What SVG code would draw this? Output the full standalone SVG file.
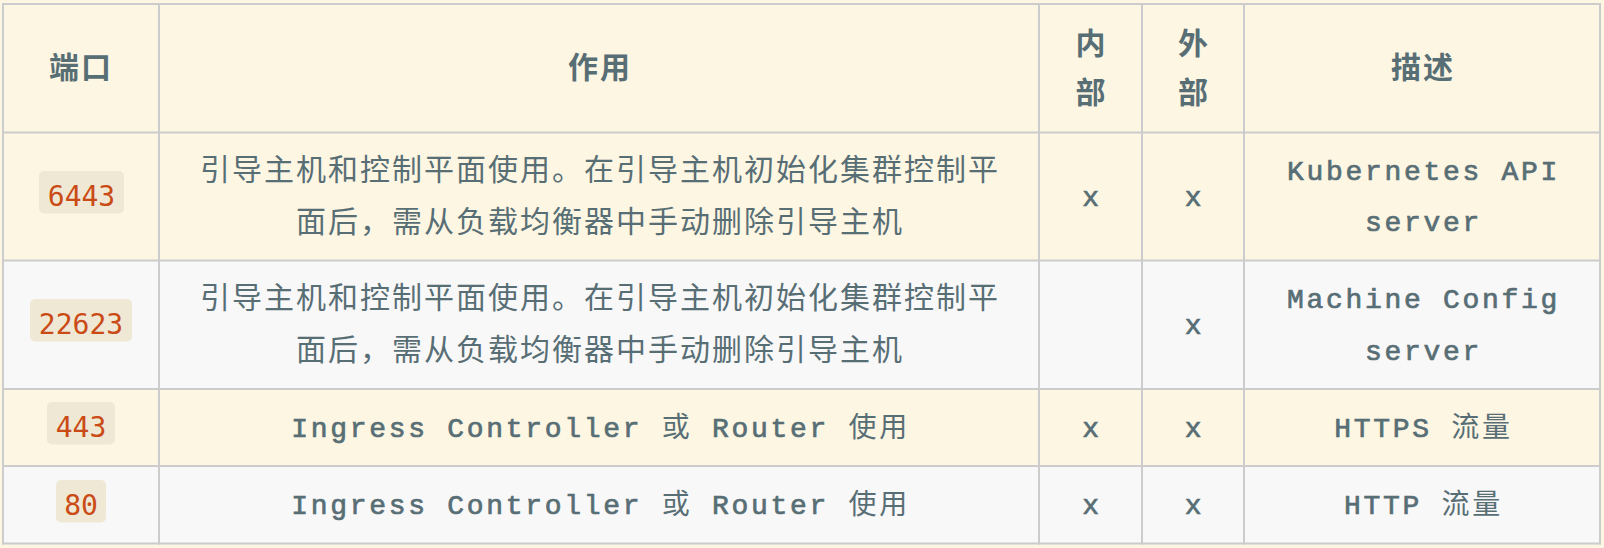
<svg xmlns="http://www.w3.org/2000/svg" width="1604" height="548" viewBox="0 0 1604 548">
<style>
.bg{fill:#fdf6e3}
.alt{fill:#f8f8f8}
.grid line{stroke:#cccccc;stroke-width:2}
.h{font-family:"Noto Sans CJK SC","Noto Sans",sans-serif;font-size:30px;font-weight:bold;fill:#586e75;text-anchor:middle;letter-spacing:2px}
.t{font-family:"Noto Sans CJK SC","Noto Sans",sans-serif;font-size:30px;fill:#586e75;text-anchor:middle;letter-spacing:2px}
.m{font-family:"Courier New","Liberation Mono",monospace;font-size:28px;fill:#586e75;stroke:#586e75;stroke-width:0.7px;text-anchor:middle;letter-spacing:2.7px}
.m .c{font-family:"Noto Sans CJK SC",sans-serif;stroke:none}
.code rect{fill:#eee8d5}
.code text{font-family:"DejaVu Sans Mono",monospace;font-size:28px;fill:#cb4b16;text-anchor:middle}
</style>
<rect class="bg" x="0" y="0" width="1604" height="548"/>
<g id="rows">
<rect class="bg" x="3" y="4" width="1597" height="128.5"/>
<rect class="bg" x="3" y="132.5" width="1597" height="128"/>
<rect class="alt" x="3" y="260.5" width="1597" height="128.5"/>
<rect class="bg" x="3" y="389" width="1597" height="77"/>
<rect class="alt" x="3" y="466" width="1597" height="77.5"/>
</g>
<g id="header">
<text class="h" x="81" y="77.5">端口</text>
<text class="h" x="600" y="77.5">作用</text>
<text class="h" x="1091.5" y="54">内</text>
<text class="h" x="1091.5" y="103">部</text>
<text class="h" x="1194" y="54">外</text>
<text class="h" x="1194" y="103">部</text>
<text class="h" x="1423" y="77.5">描述</text>
</g>
<g id="row-6443">
<g class="code"><rect x="39" y="171" width="85" height="42.5" rx="5"/><text x="81.5" y="206">6443</text></g>
<text class="t" x="600" y="179.5">引导主机和控制平面使用。在引导主机初始化集群控制平</text>
<text class="t" x="600" y="231.5">面后，需从负载均衡器中手动删除引导主机</text>
<text class="m" x="1092" y="205.5">x</text>
<text class="m" x="1194.5" y="205.5">x</text>
<text class="m" x="1423.5" y="180">Kubernetes API</text>
<text class="m" x="1423.5" y="231">server</text>
</g>
<g id="row-22623">
<g class="code"><rect x="30" y="299" width="102" height="42.5" rx="5"/><text x="81" y="334">22623</text></g>
<text class="t" x="600" y="308">引导主机和控制平面使用。在引导主机初始化集群控制平</text>
<text class="t" x="600" y="360">面后，需从负载均衡器中手动删除引导主机</text>
<text class="m" x="1194.5" y="334">x</text>
<text class="m" x="1423.5" y="308.3">Machine Config</text>
<text class="m" x="1423.5" y="360">server</text>
</g>
<g id="row-443">
<g class="code"><rect x="47" y="402" width="68" height="42.5" rx="5"/><text x="81" y="437">443</text></g>
<text class="m" x="600.5" y="436.75">Ingress Controller <tspan class="c">或</tspan> Router <tspan class="c">使用</tspan></text>
<text class="m" x="1092" y="436.75">x</text>
<text class="m" x="1194.5" y="436.75">x</text>
<text class="m" x="1423.5" y="436.75">HTTPS <tspan class="c">流量</tspan></text>
</g>
<g id="row-80">
<g class="code"><rect x="56" y="480" width="50" height="42.5" rx="5"/><text x="81" y="514.5">80</text></g>
<text class="m" x="600.5" y="514">Ingress Controller <tspan class="c">或</tspan> Router <tspan class="c">使用</tspan></text>
<text class="m" x="1092" y="514">x</text>
<text class="m" x="1194.5" y="514">x</text>
<text class="m" x="1423.5" y="514">HTTP <tspan class="c">流量</tspan></text>
</g>
<g id="connectors" class="grid">
<line x1="2" y1="4" x2="1601" y2="4"/>
<line x1="2" y1="132.5" x2="1601" y2="132.5"/>
<line x1="2" y1="260.5" x2="1601" y2="260.5"/>
<line x1="2" y1="389" x2="1601" y2="389"/>
<line x1="2" y1="466" x2="1601" y2="466"/>
<line x1="2" y1="543.5" x2="1601" y2="543.5"/>
<line x1="3" y1="3" x2="3" y2="544.5"/>
<line x1="159" y1="3" x2="159" y2="544.5"/>
<line x1="1039" y1="3" x2="1039" y2="544.5"/>
<line x1="1142" y1="3" x2="1142" y2="544.5"/>
<line x1="1244" y1="3" x2="1244" y2="544.5"/>
<line x1="1600" y1="3" x2="1600" y2="544.5"/>
</g>
</svg>
